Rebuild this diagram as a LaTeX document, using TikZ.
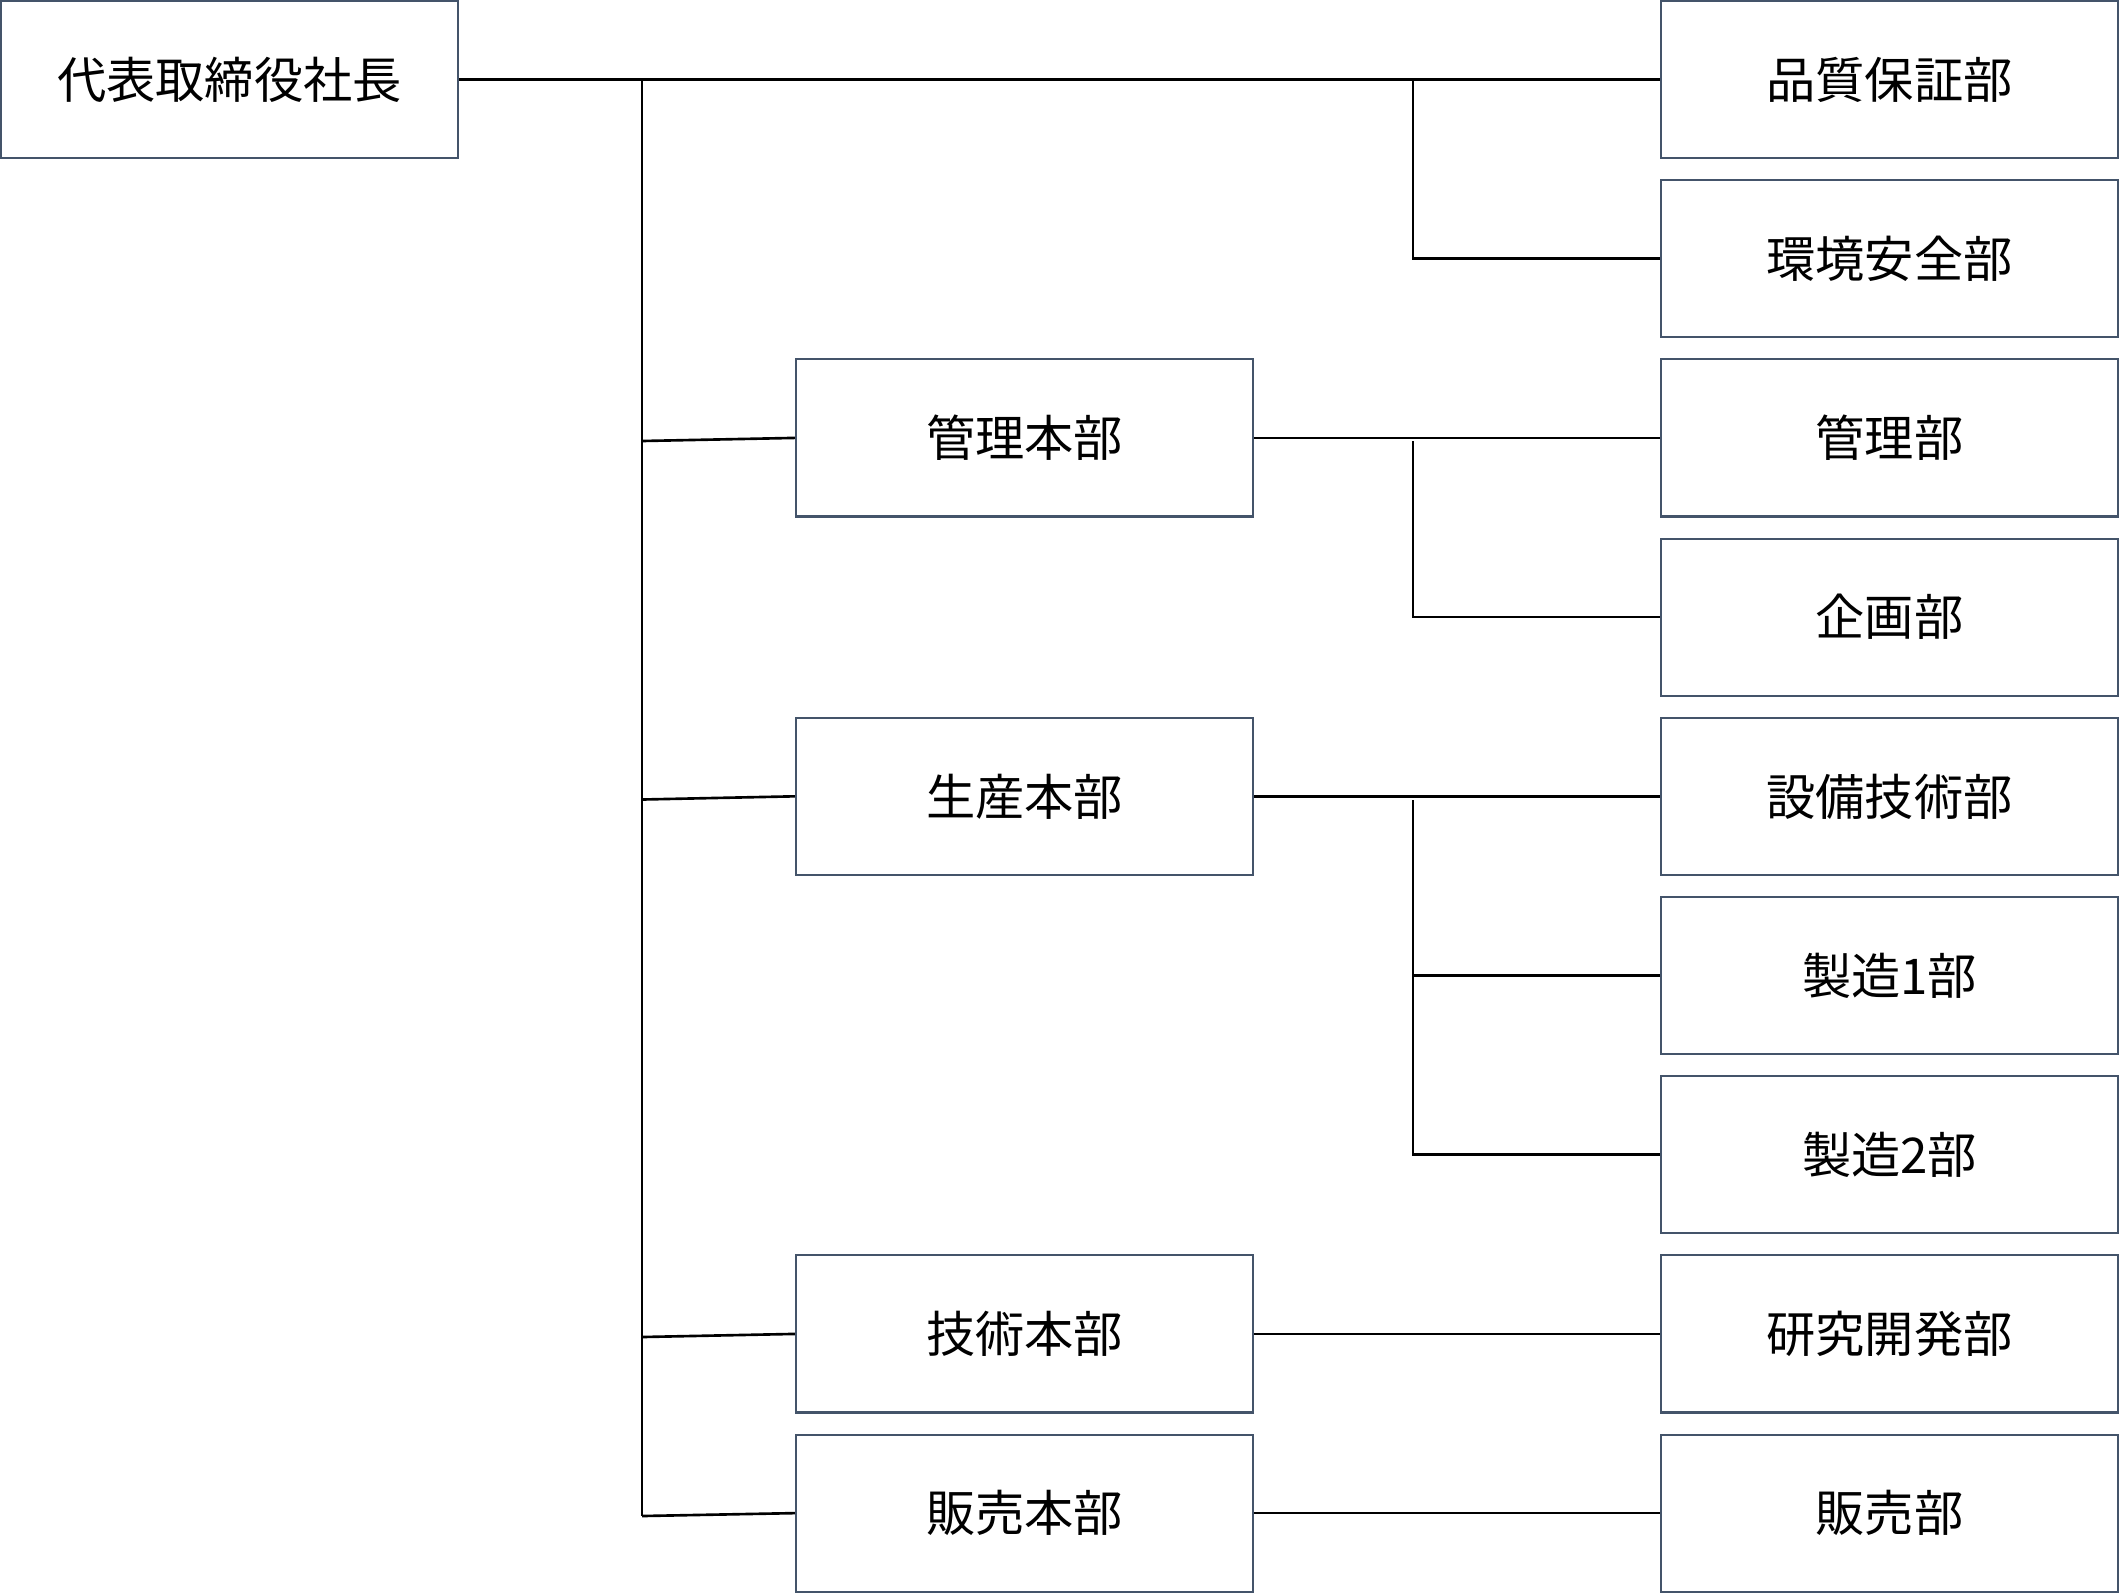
\documentclass[tikz,border=0pt]{standalone}
\usepackage{fontspec}
\newfontfamily\jpfont{Noto Sans CJK JP}
\definecolor{marco}{HTML}{44546A}
\begin{document}
\begin{tikzpicture}[x=0.01cm, y=-0.01cm,
        caja/.style={draw=marco, line width=0.6pt, fill=white, minimum width=4.57cm,
            minimum height=1.57cm, inner sep=0pt, font=\jpfont\fontsize{14}{16}\selectfont},
        linea/.style={black, line width=0.75pt}]
        \useasboundingbox (0,0) rectangle (2119,1593);
        % ── 社長 ──────────────────────────
        \node[caja] (shacho) at (229.5,79.5) {代表取締役社長};
        % ── 本部 ──────────────────────────
        \node[caja] (kanrihb) at (1024.5,437.9) {管理本部};
        \node[caja] (seisanhb) at (1024.5,796.3) {生産本部};
        \node[caja] (gijutsuhb) at (1024.5,1333.9) {技術本部};
        \node[caja] (hanbaihb) at (1024.5,1513.1) {販売本部};
        % ── 部 ────────────────────────────
        \node[caja] (hinshitsu) at (1889.5,79.5) {品質保証部};
        \node[caja] (kankyo) at (1889.5,258.7) {環境安全部};
        \node[caja] (kanri) at (1889.5,437.9) {管理部};
        \node[caja] (kikaku) at (1889.5,617.1) {企画部};
        \node[caja] (setsubi) at (1889.5,796.3) {設備技術部};
        \node[caja] (seizoA) at (1889.5,975.5) {製造1部};
        \node[caja] (seizoB) at (1889.5,1154.7) {製造2部};
        \node[caja] (kenkyu) at (1889.5,1333.9) {研究開発部};
        \node[caja] (hanbai) at (1889.5,1513.1) {販売部};
        % ── 幹線 ──────────────────────────
        \coordinate (tA) at (642,79.5);
        \coordinate (tB) at (642,441);
        \coordinate (tC) at (642,799.5);
        \coordinate (tD) at (642,1337);
        \coordinate (tE) at (642,1516);
        \draw[linea] (shacho.east) -- (hinshitsu.west);
        \draw[linea] (tA) -- (tE);
        \draw[linea] (tB) -- (kanrihb.west);
        \draw[linea] (tC) -- (seisanhb.west);
        \draw[linea] (tD) -- (gijutsuhb.west);
        \draw[linea] (tE) -- (hanbaihb.west);
        % ── 支線 ──────────────────────────
        \coordinate (rA) at (1413,79.5);
        \coordinate (rB) at (1413,441);
        \coordinate (rC) at (1413,800);
        \draw[linea] (rA) |- (kankyo.west);
        \draw[linea] (kanrihb.east) -- (kanri.west);
        \draw[linea] (rB) |- (kikaku.west);
        \draw[linea] (seisanhb.east) -- (setsubi.west);
        \draw[linea] (rC) |- (seizoB.west);
        \draw[linea] (rC |- seizoA.west) -- (seizoA.west);
        \draw[linea] (gijutsuhb.east) -- (kenkyu.west);
        \draw[linea] (hanbaihb.east) -- (hanbai.west);
\end{tikzpicture}
\end{document}
